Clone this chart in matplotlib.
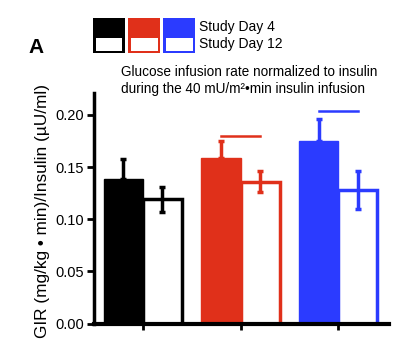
import matplotlib.pyplot as plt
from matplotlib.patches import Rectangle
import numpy as np

plt.rcParams['font.family'] = ['Liberation Sans', 'DejaVu Sans']

# Data (three groups, no x labels)
groups = ['grp1', 'grp2', 'grp3']
day4_mean = [0.139, 0.159, 0.175]
day4_sem = [0.019, 0.016, 0.021]
day12_mean = [0.119, 0.136, 0.128]
day12_sem = [0.012, 0.010, 0.018]
sig_height = [None, 0.180, 0.204]

colors = ['#000000', '#e0301a', '#2b3bff']

W, H = 407, 355
fig = plt.figure(figsize=(W / 100, H / 100), dpi=100)
ax = fig.add_axes([94 / W, 1 - 323.5 / H, (389 - 94) / W, (323.5 - 93) / H])

x = np.arange(len(groups))
bw = 0.4

for i in range(len(groups)):
    c = colors[i]
    # filled bar = Study Day 4, upper error only
    ax.bar(x[i] - bw / 2, day4_mean[i], bw, color=c, edgecolor=c, lw=1, zorder=2)
    ax.errorbar(x[i] - bw / 2, day4_mean[i], yerr=[[0], [day4_sem[i]]], fmt='none',
                ecolor=c, elinewidth=2.5, capsize=2, capthick=2.5, zorder=3)
    # open bar = Study Day 12
    ax.bar(x[i] + bw / 2, day12_mean[i], bw, color='white', edgecolor=c, lw=2.5, zorder=2)
    ax.errorbar(x[i] + bw / 2, day12_mean[i], yerr=day12_sem[i], fmt='none',
                ecolor=c, elinewidth=2.5, capsize=2, capthick=2.5, zorder=3)
    if sig_height[i] is not None:
        ax.plot([x[i] - bw / 2, x[i] + bw / 2], [sig_height[i]] * 2, color=c, lw=1.8)

ax.set_xlim(-0.5, 2.52)
ax.set_ylim(0, 0.221)
ax.set_yticks([0, 0.05, 0.10, 0.15, 0.20])
ax.set_yticklabels(['0.00', '0.05', '0.10', '0.15', '0.20'], fontsize=10.5)
ax.set_xticks(x)
ax.set_xticklabels([])
ax.spines['top'].set_visible(False)
ax.spines['right'].set_visible(False)
ax.spines['left'].set_linewidth(2.5)
ax.spines['bottom'].set_linewidth(3)
ax.tick_params(axis='y', width=2, length=5, pad=2)
ax.tick_params(axis='x', width=2, length=4)
ax.set_ylabel('GIR (mg/kg \u2022 min)/Insulin (\u00b5U/ml)', fontsize=12.4)
ax.yaxis.set_label_coords(-0.15, 0.49)

ax.text(121 / W, 1 - 80.5 / H, 'Glucose infusion rate normalized to insulin\n'
        'during the 40 mU/m\u00b2\u2022min insulin infusion',
        transform=fig.transFigure, fontsize=9.8, va='center', ha='left', linespacing=1.2)

# Legend boxes: filled top half, outlined bottom half
box_x = [93, 128, 163]
for bx, c in zip(box_x, colors):
    fig.add_artist(Rectangle((bx / W, 1 - 53 / H), 32 / W, 35 / H,
                             transform=fig.transFigure, facecolor=c, edgecolor='none'))
    fig.add_artist(Rectangle(((bx + 2.5) / W, 1 - 50.5 / H), 27 / W, 13 / H,
                             transform=fig.transFigure, facecolor='white', edgecolor='none'))
fig.text(199 / W, 1 - 27 / H, 'Study Day 4', fontsize=10, va='center')
fig.text(199 / W, 1 - 44 / H, 'Study Day 12', fontsize=10, va='center')

fig.text(28 / W, 1 - 47.5 / H, 'A', fontsize=15, fontweight='bold', va='center')

fig.savefig('out.png', dpi=100)
